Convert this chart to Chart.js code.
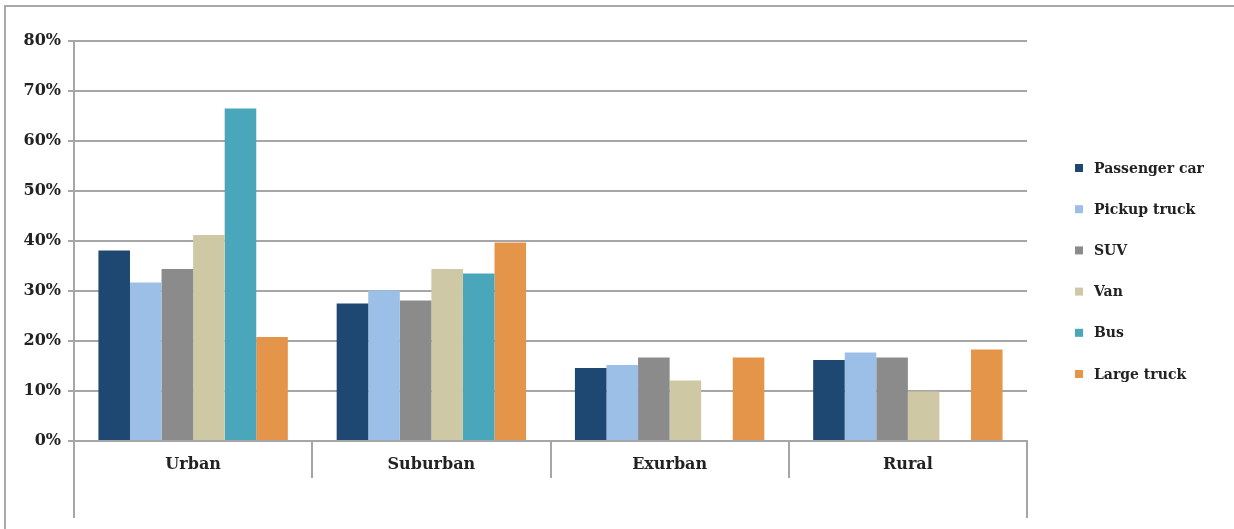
<!DOCTYPE html>
<html>
<head>
<meta charset="utf-8">
<title>Share by area type and vehicle</title>
<script src="https://cdn.jsdelivr.net/npm/chart.js@4.4.1/dist/chart.umd.min.js"></script>
<style>
  html, body { margin: 0; padding: 0; background: #ffffff; }
  #wrap { position: relative; width: 1234px; height: 529px; overflow: hidden; }
  #frame {
    position: absolute; left: 4px; top: 5px; width: 1240px; height: 540px;
    border-top: 2px solid #a9a9a9; border-left: 2px solid #a9a9a9;
    box-sizing: border-box;
  }
  #chart { position: absolute; left: 0; top: 0; }
</style>
</head>
<body>
<div id="wrap">
  <div id="frame"></div>
  <canvas id="chart" width="1234" height="529"></canvas>
</div>
<script>
// Area types along the x axis
const categories = ['Urban', 'Suburban', 'Exurban', 'Rural'];

// Share (%) for each vehicle type, per area type
const passengerCar = [38.1, 27.5, 14.6, 16.2];
const pickupTruck  = [31.7, 30.1, 15.2, 17.7];
const suv          = [34.4, 28.1, 16.7, 16.7];
const van          = [41.2, 34.4, 12.1, 9.9];
const bus          = [66.5, 33.5, null, null];
const largeTruck   = [20.8, 39.7, 16.7, 18.3];

// Value axis ticks
const yTicks = [0, 10, 20, 30, 40, 50, 60, 70, 80];

const seriesNames  = ['Passenger car', 'Pickup truck', 'SUV', 'Van', 'Bus', 'Large truck'];
const seriesValues = [passengerCar, pickupTruck, suv, van, bus, largeTruck];
const seriesColors = ['#1e4871', '#9cbfe7', '#8b8b8b', '#cfc8a5', '#4aa7bb', '#e5954a'];

const FONT = 'DejaVu Serif';
const AXIS_GRAY = '#a6a6a6';

// Axis line and outer category boundaries run down through the label band
const axisExtension = {
  id: 'axisExtension',
  afterDraw(chart) {
    const { ctx, chartArea, scales } = chart;
    const x = scales.x;
    ctx.save();
    ctx.strokeStyle = AXIS_GRAY;
    ctx.lineWidth = 2;
    ctx.beginPath();
    ctx.moveTo(x.left, chartArea.bottom);
    ctx.lineTo(x.left, x.bottom);
    ctx.moveTo(x.right, chartArea.bottom);
    ctx.lineTo(x.right, x.bottom);
    ctx.stroke();
    ctx.restore();
  }
};

// Vertical legend to the right of the plot
const sideLegend = {
  id: 'sideLegend',
  afterDraw(chart) {
    const { ctx, chartArea } = chart;
    const box = 8;
    const left = chartArea.right + 48;
    const firstY = chartArea.top + 127;
    const step = 41.2;
    ctx.save();
    ctx.font = 'bold 14px "' + FONT + '"';
    ctx.textBaseline = 'middle';
    ctx.textAlign = 'left';
    chart.data.datasets.forEach((ds, i) => {
      const cy = firstY + i * step;
      ctx.fillStyle = ds.backgroundColor;
      ctx.fillRect(left, cy - box / 2, box, box);
      ctx.fillStyle = '#222222';
      ctx.fillText(ds.label, left + box + 11, cy + 1);
    });
    ctx.restore();
  }
};

new Chart(document.getElementById('chart'), {
  type: 'bar',
  data: {
    labels: categories,
    datasets: seriesNames.map((name, i) => ({
      label: name,
      data: seriesValues[i],
      backgroundColor: seriesColors[i],
      borderWidth: 0,
      categoryPercentage: 0.795,
      barPercentage: 1.0
    }))
  },
  options: {
    responsive: false,
    animation: false,
    events: [],
    layout: { padding: { left: 0, top: 41, right: 207, bottom: 11 } },
    plugins: {
      legend: { display: false },
      tooltip: { enabled: false },
      title: { display: false }
    },
    scales: {
      x: {
        offset: true,
        grid: {
          offset: true,
          drawOnChartArea: false,
          drawTicks: true,
          tickLength: 37,
          color: AXIS_GRAY,
          lineWidth: 2
        },
        border: { display: true, color: AXIS_GRAY, width: 2 },
        ticks: {
          padding: -23,
          color: '#222222',
          font: { family: FONT, size: 16, weight: 'bold' },
          maxRotation: 0
        },
        afterFit(scale) { scale.height = 77; }
      },
      y: {
        min: 0,
        max: 80,
        afterBuildTicks(scale) { scale.ticks = yTicks.map(v => ({ value: v })); },
        grid: {
          color: AXIS_GRAY,
          lineWidth: 2,
          drawTicks: true,
          tickLength: 6
        },
        border: { display: true, color: AXIS_GRAY, width: 2 },
        ticks: {
          padding: 7,
          color: '#222222',
          font: { family: FONT, size: 16, weight: 'bold' },
          callback: v => v + '%'
        },
        afterFit(scale) { scale.width = 74; }
      }
    }
  },
  plugins: [axisExtension, sideLegend]
});
</script>
</body>
</html>
